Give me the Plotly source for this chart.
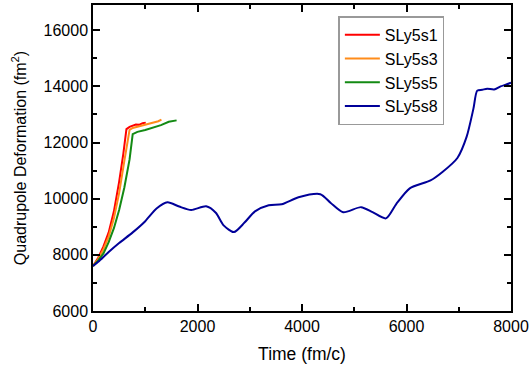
import plotly.graph_objects as go

# SLy5s1
t_s1 = [0, 100, 200, 300, 400, 500, 580, 640, 700, 760, 820, 880, 950, 1010]
q_s1 = [7600, 7900, 8300, 8800, 9550, 10600, 11600, 12480, 12560, 12600, 12640, 12630, 12690, 12710]
# SLy5s3
t_s3 = [0, 100, 200, 300, 400, 500, 600, 700, 760, 850, 950, 1050, 1150, 1250, 1310]
q_s3 = [7600, 7850, 8200, 8650, 9300, 10200, 11350, 12450, 12520, 12560, 12620, 12660, 12720, 12760, 12820]
# SLy5s5
t_s5 = [0, 100, 200, 300, 400, 500, 600, 700, 760, 850, 1000, 1150, 1300, 1450, 1600]
q_s5 = [7600, 7800, 8050, 8450, 8950, 9600, 10400, 11400, 12300, 12380, 12450, 12530, 12620, 12740, 12790]
# SLy5s8
t_s8 = [0, 100, 300, 500, 760, 1000, 1216, 1425, 1650, 1880, 2166, 2350, 2500, 2698, 2900,
        3100, 3363, 3610, 3933, 4351, 4550, 4788, 5131, 5350, 5606, 5800, 6062, 6460, 6688,
        6974, 7150, 7280, 7354, 7450, 7544, 7677, 7800, 7900, 8000]
q_s8 = [7600, 7750, 8100, 8420, 8800, 9200, 9650, 9870, 9720, 9600, 9730, 9500, 9050, 8810, 9150,
        9550, 9770, 9800, 10050, 10160, 9850, 9520, 9700, 9520, 9300, 9800, 10370, 10650, 10950,
        11450, 12200, 13200, 13850, 13880, 13920, 13890, 14000, 14060, 14130]

series = [
    ("SLy5s1", t_s1, q_s1, "#FF0000", "linear"),
    ("SLy5s3", t_s3, q_s3, "#FF8C1A", "linear"),
    ("SLy5s5", t_s5, q_s5, "#138A13", "linear"),
    ("SLy5s8", t_s8, q_s8, "#000099", "spline"),
]

fig = go.Figure()
for name, x, y, c, shape in series:
    line = dict(color=c, width=2, shape=shape)
    if shape == "spline":
        line["smoothing"] = 0.7
    fig.add_trace(go.Scatter(x=x, y=y, mode="lines", name=name, line=line))

FONT = "Liberation Sans, Arial, sans-serif"
axis_common = dict(
    showline=True, linecolor="black", linewidth=1.5, mirror="allticks",
    ticks="inside", ticklen=7, tickwidth=1.5, tickcolor="black",
    showgrid=False, zeroline=False, tickformat="d",
    tickfont=dict(family=FONT, size=16, color="black"),
)

fig.update_layout(
    width=532, height=367,
    margin=dict(l=93, r=18, t=3, b=56),
    paper_bgcolor="white", plot_bgcolor="white",
    xaxis=dict(range=[0, 8000], dtick=2000,
               title=dict(text="Time (fm/c)", standoff=14,
                          font=dict(family=FONT, size=17.5, color="black")),
               minor=dict(dtick=1000, ticks="inside", ticklen=4, tickwidth=1.5, tickcolor="black"),
               **axis_common),
    yaxis=dict(range=[6000, 16900], dtick=2000, tick0=6000,
               title=dict(text="Quadrupole Deformation (fm<sup>2</sup>)", standoff=13,
                          font=dict(family=FONT, size=16, color="black")),
               minor=dict(dtick=1000, ticks="inside", ticklen=4, tickwidth=1.5, tickcolor="black"),
               **axis_common),
    legend=dict(x=0.587, y=0.963, xanchor="left", yanchor="top",
                bordercolor="#999999", borderwidth=1.5, bgcolor="white",
                font=dict(family=FONT, size=16, color="black"),
                tracegroupgap=0, itemwidth=35),
    showlegend=True,
)

fig.write_html("out.html", config={"displayModeBar": False},
               post_script="document.body.style.margin='0';document.body.style.overflow='hidden';")
